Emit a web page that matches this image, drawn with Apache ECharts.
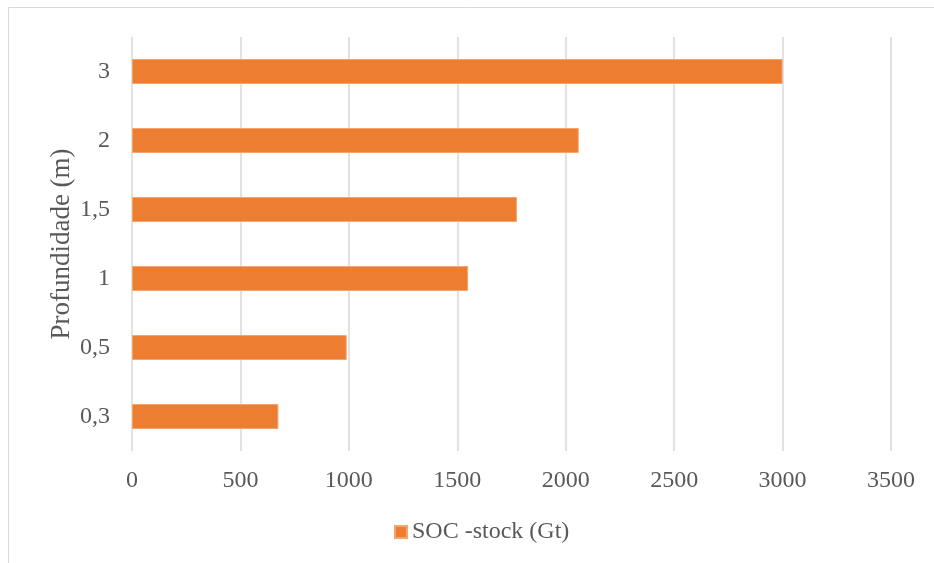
<!DOCTYPE html>
<html>
<head>
<meta charset="utf-8">
<script src="https://cdn.jsdelivr.net/npm/echarts@6/dist/echarts.min.js"></script>
<style>
html,body{margin:0;padding:0;background:#fff;}
#chart{width:934px;height:563px;}
</style>
</head>
<body>
<div id="chart"></div>
<script>
var categories = ['0,3', '0,5', '1', '1,5', '2', '3'];
var socStock = [675, 990, 1550, 1775, 2060, 3000];
var seriesName = 'SOC -stock (Gt)';
var yAxisTitle = 'Profundidade (m)';

var textColor = '#595959';
var fontFamily = '"Liberation Serif", "Times New Roman", serif';

var chart = echarts.init(document.getElementById('chart'), null, {renderer: 'canvas'});
chart.setOption({
  animation: false,
  backgroundColor: '#ffffff',
  textStyle: {fontFamily: fontFamily},
  graphic: [{
    type: 'rect',
    shape: {x: 8.5, y: 7.5, width: 1000, height: 1000},
    style: {fill: 'none', stroke: '#d9d9d9', lineWidth: 1},
    silent: true
  }],
  legend: {
    data: [seriesName],
    left: 389,
    top: 515,
    icon: 'rect',
    itemWidth: 12,
    itemHeight: 12,
    textStyle: {color: textColor, fontSize: 24, fontFamily: fontFamily}
  },
  grid: {left: 132, right: 43, top: 37, bottom: 112, containLabel: false},
  xAxis: {
    type: 'value',
    min: 0,
    max: 3500,
    interval: 500,
    axisLine: {show: false},
    axisTick: {show: false},
    splitLine: {show: true, lineStyle: {color: '#d9d9d9', width: 1.5}},
    axisLabel: {
      color: textColor, fontSize: 24, fontFamily: fontFamily, margin: 18,
      formatter: function (v) { return String(v); }
    }
  },
  yAxis: {
    type: 'category',
    data: categories,
    name: yAxisTitle,
    nameLocation: 'middle',
    nameGap: 57,
    nameMoveOverlap: false,
    nameTextStyle: {color: textColor, fontSize: 27, fontFamily: fontFamily},
    axisLine: {show: false},
    axisTick: {show: false},
    axisLabel: {color: textColor, fontSize: 24, fontFamily: fontFamily, margin: 22}
  },
  series: [{
    name: seriesName,
    type: 'bar',
    data: socStock,
    barWidth: 25,
    itemStyle: {color: '#ED7D31', borderColor: '#F4A46C', borderWidth: 1}
  }]
});
</script>
</body>
</html>
